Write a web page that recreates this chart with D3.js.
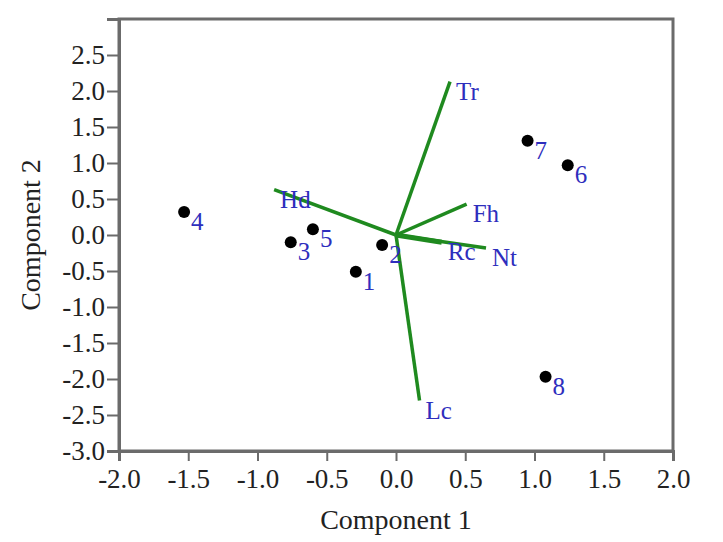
<!DOCTYPE html>
<html>
<head>
<meta charset="utf-8">
<script src="https://cdn.jsdelivr.net/npm/d3@7"></script>
<style>
  body { margin: 0; background: #fff; }
  svg text { font-family: "Liberation Serif", "Times New Roman", serif; }
</style>
</head>
<body>
<div id="chart"></div>
<script>
// sample scores (PCA component 1 / component 2)
var sampleNames = ["1", "2", "3", "4", "5", "6", "7", "8"];
var sampleC1 = [-0.29, -0.10, -0.76, -1.53, -0.60, 1.24, 0.95, 1.08];
var sampleC2 = [-0.51, -0.14, -0.10, 0.32, 0.08, 0.97, 1.31, -1.97];

// variable loadings (vectors from origin)
var varNames = ["Tr", "Hd", "Fh", "Rc", "Nt", "Lc"];
var varC1 = [0.39, -0.88, 0.51, 0.33, 0.65, 0.17];
var varC2 = [2.13, 0.63, 0.43, -0.10, -0.18, -2.30];

var xTicks = [-2.0, -1.5, -1.0, -0.5, 0.0, 0.5, 1.0, 1.5, 2.0];
var yTicks = [-3.0, -2.5, -2.0, -1.5, -1.0, -0.5, 0.0, 0.5, 1.0, 1.5, 2.0, 2.5];

var width = 723, height = 542;
var margin = {top: 19, right: 50, bottom: 91, left: 119};

var svg = d3.select("#chart").append("svg")
  .attr("width", width)
  .attr("height", height);

var x = d3.scaleLinear().domain([-2, 2]).range([margin.left, width - margin.right]);
var y = d3.scaleLinear().domain([-3, 3]).range([height - margin.bottom, margin.top]);

var fmt = function(d) { return d.toFixed(1); };
var axisColor = "#6b6b6b";

// frame
svg.append("rect")
  .attr("x", x(-2))
  .attr("y", y(3))
  .attr("width", x(2) - x(-2))
  .attr("height", y(-3) - y(3))
  .attr("fill", "none")
  .attr("stroke", axisColor)
  .attr("stroke-width", 3);

var xAxis = svg.append("g")
  .attr("transform", "translate(0," + y(-3) + ")")
  .call(d3.axisBottom(x).tickValues(xTicks).tickFormat(fmt).tickSize(10).tickPadding(8));

var yAxis = svg.append("g")
  .attr("transform", "translate(" + x(-2) + ",0)")
  .call(d3.axisLeft(y).tickValues(yTicks).tickFormat(fmt).tickSize(12).tickPadding(2));

[xAxis, yAxis].forEach(function(a) {
  a.select(".domain").attr("stroke", axisColor).attr("stroke-width", 3);
  a.selectAll(".tick line").attr("stroke", axisColor).attr("stroke-width", 2);
  a.selectAll(".tick text")
    .attr("fill", "#222")
    .style("font-size", "27px")
    .style("font-family", "'Liberation Serif', 'Times New Roman', serif");
});

// axis titles
svg.append("text")
  .attr("x", x(0))
  .attr("y", 529)
  .attr("text-anchor", "middle")
  .attr("fill", "#222")
  .style("font-size", "28px")
  .text("Component 1");

svg.append("text")
  .attr("transform", "translate(40," + y(0) + ") rotate(-90)")
  .attr("text-anchor", "middle")
  .attr("fill", "#222")
  .style("font-size", "28px")
  .text("Component 2");

// loading vectors
var lineColor = "#1f8a1f";
var labelColor = "#2e2ebd";

var vectors = varNames.map(function(n, i) { return {name: n, c1: varC1[i], c2: varC2[i]}; });

svg.append("g").selectAll("line")
  .data(vectors)
  .enter().append("line")
  .attr("x1", x(0))
  .attr("y1", y(0))
  .attr("x2", function(d) { return x(d.c1); })
  .attr("y2", function(d) { return y(d.c2); })
  .attr("stroke", lineColor)
  .attr("stroke-width", function(d) { return d.name == "Rc" ? 5 : 3.5; });

svg.append("g").selectAll("text")
  .data(vectors)
  .enter().append("text")
  .attr("x", function(d) { return x(d.c1) + 6; })
  .attr("y", function(d) { return y(d.c2) + 18; })
  .attr("fill", labelColor)
  .style("font-size", "25px")
  .text(function(d) { return d.name; });

// sample points
var samples = sampleNames.map(function(n, i) { return {name: n, c1: sampleC1[i], c2: sampleC2[i]}; });

svg.append("g").selectAll("circle")
  .data(samples)
  .enter().append("circle")
  .attr("cx", function(d) { return x(d.c1); })
  .attr("cy", function(d) { return y(d.c2); })
  .attr("r", 6)
  .attr("fill", "#000");

svg.append("g").selectAll("text")
  .data(samples)
  .enter().append("text")
  .attr("x", function(d) { return x(d.c1) + 7; })
  .attr("y", function(d) { return y(d.c2) + 18; })
  .attr("fill", labelColor)
  .style("font-size", "25px")
  .text(function(d) { return d.name; });
</script>
</body>
</html>
